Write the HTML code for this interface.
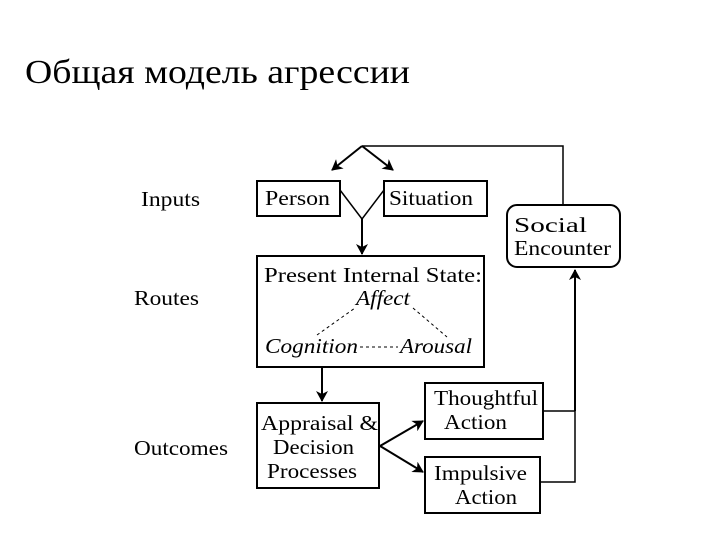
<!DOCTYPE html>
<html><head><meta charset="utf-8"><style>html,body{margin:0;padding:0;background:#fff}svg{display:block}</style></head>
<body>
<svg width="720" height="540" viewBox="0 0 720 540" xmlns="http://www.w3.org/2000/svg" font-family="'Liberation Serif',serif" fill="#000">
<defs>
<marker id="a" markerWidth="12" markerHeight="12" refX="10" refY="6" orient="auto" markerUnits="userSpaceOnUse">
<path d="M0,0 L11,6 L0,12 L3,6 Z" fill="#000"/></marker>
</defs>
<text x="25" y="83" font-size="34" textLength="385" lengthAdjust="spacingAndGlyphs">Общая модель агрессии</text>
<g font-size="21">
<text x="141" y="206" textLength="59" lengthAdjust="spacingAndGlyphs">Inputs</text>
<text x="134" y="305" textLength="65" lengthAdjust="spacingAndGlyphs">Routes</text>
<text x="134" y="455" textLength="94" lengthAdjust="spacingAndGlyphs">Outcomes</text>
</g>
<g fill="none" stroke="#000" stroke-width="2">
<rect x="257" y="181" width="83" height="35"/>
<rect x="384" y="181" width="103" height="35"/>
<rect x="507" y="205" width="113" height="62" rx="10"/>
<rect x="257" y="256" width="227" height="111"/>
<rect x="257" y="403" width="122" height="85"/>
<rect x="425" y="383" width="118" height="56"/>
<rect x="425" y="457" width="115" height="56"/>
<polyline points="340,190 362,219 384,190" stroke-width="1.5"/>
<line x1="362" y1="219" x2="362" y2="254" marker-end="url(#a)"/>
<line x1="362" y1="146" x2="332" y2="170" marker-end="url(#a)"/>
<line x1="362" y1="146" x2="393" y2="170" marker-end="url(#a)"/>
<polyline points="362,146 563,146 563,205" stroke-width="1.5"/>
<line x1="322" y1="367" x2="322" y2="401" marker-end="url(#a)"/>
<line x1="380" y1="446" x2="423" y2="421" marker-end="url(#a)"/>
<line x1="380" y1="446" x2="423" y2="472" marker-end="url(#a)"/>
<polyline points="543,411 575,411" stroke-width="1.5"/>
<polyline points="540,482 575,482 575,411" stroke-width="1.5"/>
<line x1="575" y1="411" x2="575" y2="270" marker-end="url(#a)"/>
<line x1="317" y1="335" x2="355" y2="308" stroke-width="1" stroke-dasharray="3,3"/>
<line x1="413" y1="308" x2="447" y2="337" stroke-width="1" stroke-dasharray="3,3"/>
<line x1="360" y1="347" x2="398" y2="347" stroke-width="1" stroke-dasharray="3,3"/>
</g>
<g font-size="21">
<text x="265" y="205" textLength="65" lengthAdjust="spacingAndGlyphs">Person</text>
<text x="389" y="205" textLength="84" lengthAdjust="spacingAndGlyphs">Situation</text>
<text x="514" y="232" textLength="73" lengthAdjust="spacingAndGlyphs">Social</text>
<text x="514" y="255" textLength="97" lengthAdjust="spacingAndGlyphs">Encounter</text>
<text x="264" y="282" textLength="218" lengthAdjust="spacingAndGlyphs">Present Internal State:</text>
<text x="356" y="305" font-style="italic" textLength="54" lengthAdjust="spacingAndGlyphs">Affect</text>
<text x="265" y="353" font-style="italic" textLength="93" lengthAdjust="spacingAndGlyphs">Cognition</text>
<text x="400" y="353" font-style="italic" textLength="72" lengthAdjust="spacingAndGlyphs">Arousal</text>
<text x="261" y="430" textLength="117" lengthAdjust="spacingAndGlyphs">Appraisal &amp;</text>
<text x="273" y="454" textLength="81" lengthAdjust="spacingAndGlyphs">Decision</text>
<text x="267" y="478" textLength="90" lengthAdjust="spacingAndGlyphs">Processes</text>
<text x="434" y="405" textLength="104" lengthAdjust="spacingAndGlyphs">Thoughtful</text>
<text x="444" y="429" textLength="63" lengthAdjust="spacingAndGlyphs">Action</text>
<text x="434" y="480" textLength="93" lengthAdjust="spacingAndGlyphs">Impulsive</text>
<text x="455" y="504" textLength="62" lengthAdjust="spacingAndGlyphs">Action</text>
</g>
</svg>
</body></html>
